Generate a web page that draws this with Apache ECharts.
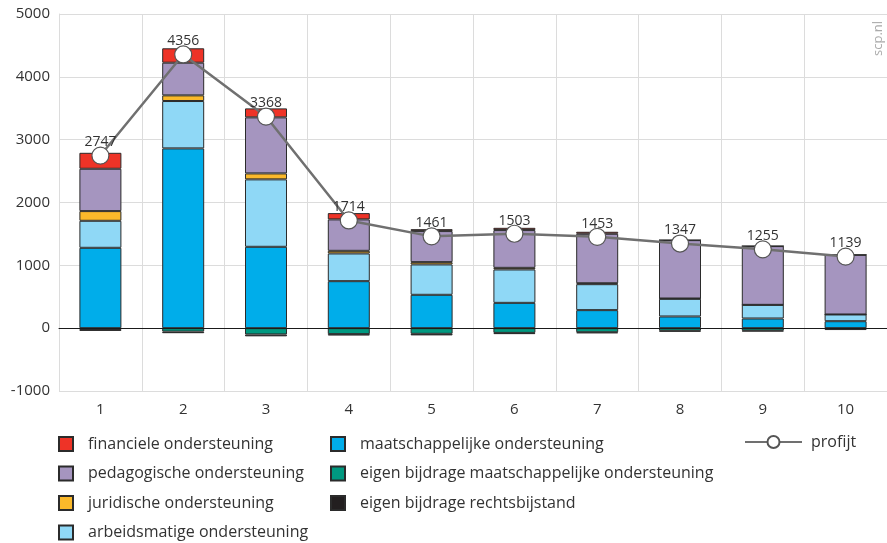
<!DOCTYPE html>
<html>
<head>
<meta charset="utf-8">
<script src="https://cdn.jsdelivr.net/npm/echarts@6/dist/echarts.min.js"></script>
<style>
  html, body { margin: 0; padding: 0; background: #fff; }
  #chart { width: 887px; height: 543px; }
</style>
</head>
<body>
<div id="chart"></div>
<script>
// deciel 1..10
const deciles = ['1', '2', '3', '4', '5', '6', '7', '8', '9', '10']
const yTicks = [-1000, 0, 1000, 2000, 3000, 4000, 5000]

// positieve componenten (van onder naar boven gestapeld)
const maatschappelijk = [1279, 2861, 1295, 748, 531, 403, 287, 186, 154, 111]
const arbeidsmatig = [430, 754, 1073, 441, 483, 531, 413, 281, 217, 107]
const juridisch = [154, 90, 95, 42, 37, 26, 15, 5, 0, 0]
const pedagogisch = [674, 520, 892, 500, 494, 601, 787, 929, 935, 949]
const financieel = [254, 229, 143, 100, 31, 36, 32, 0, 0, 0]
// eigen bijdragen (negatief)
const eigenMaatsch = [-14, -55, -100, -95, -90, -75, -65, -42, -40, -8]
const eigenRecht = [-30, -25, -30, -22, -25, -20, -16, -14, -12, -22]
// totaal profijt
const profijt = [2747, 4356, 3368, 1714, 1461, 1503, 1453, 1347, 1255, 1139]

const FONT = 'Open Sans'
const chart = echarts.init(document.getElementById('chart'))

const bar = (name, data, color) => ({
  name,
  type: 'bar',
  stack: 'p',
  data,
  barWidth: 42,
  itemStyle: { color, borderColor: '#2b2b2b', borderWidth: 1 }
})

const legendBase = {
  orient: 'vertical',
  padding: 0,
  height: 130,
  itemWidth: 14,
  itemHeight: 14,
  itemGap: 13.5,
  icon: 'rect',
  textStyle: { fontFamily: FONT, fontSize: 16, color: '#333', padding: [0, 0, 0, 10] }
}

chart.setOption({
  animation: false,
  grid: { left: 59, top: 14, width: 833, height: 377 },
  xAxis: [
    {
      type: 'category',
      data: deciles,
      position: 'bottom',
      axisLine: { onZero: false, show: false },
      axisTick: { show: false },
      axisLabel: { fontFamily: FONT, fontSize: 15, color: '#333', margin: 11 },
      splitLine: { show: true, lineStyle: { color: '#dcdcdc', width: 1 } }
    },
    {
      type: 'category',
      data: deciles,
      position: 'bottom',
      z: 5,
      axisLine: { onZero: true, lineStyle: { color: '#1a1a1a', width: 1 } },
      axisTick: { alignWithLabel: true, length: 8, lineStyle: { color: '#333' } },
      axisLabel: { show: false }
    },
    {
      type: 'category',
      data: deciles,
      position: 'bottom',
      z: 5,
      axisLine: { onZero: true, show: false },
      axisTick: { alignWithLabel: true, inside: true, length: 8, lineStyle: { color: '#333' } },
      axisLabel: { show: false }
    }
  ],
  yAxis: {
    type: 'value',
    min: yTicks[0],
    max: yTicks[yTicks.length - 1],
    interval: 1000,
    axisLine: { show: true, lineStyle: { color: '#dcdcdc' } },
    axisTick: { show: false },
    axisLabel: { fontFamily: FONT, fontSize: 15, color: '#333', margin: 9, formatter: v => String(v) },
    splitLine: { lineStyle: { color: '#dcdcdc', width: 1 } }
  },
  legend: [
    Object.assign({}, legendBase, {
      left: 58, top: 436,
      data: ['financiele ondersteuning', 'pedagogische ondersteuning', 'juridische ondersteuning', 'arbeidsmatige ondersteuning']
    }),
    Object.assign({}, legendBase, {
      left: 330, top: 436,
      data: ['maatschappelijke ondersteuning', 'eigen bijdrage maatschappelijke ondersteuning', 'eigen bijdrage rechtsbijstand']
    }),
    Object.assign({}, legendBase, {
      left: 744, top: 434,
      itemWidth: 57, itemHeight: 15,
      icon: null,
      textStyle: { fontFamily: FONT, fontSize: 16, color: '#333', padding: [0, 0, 0, 4] },
      data: [{ name: 'profijt' }]
    })
  ],
  graphic: [{
    type: 'text',
    x: 872, y: 56,
    rotation: Math.PI / 2,
    style: { text: 'scp.nl', fontFamily: FONT, fontSize: 13, fill: '#aaa' }
  }],
  series: [
    bar('maatschappelijke ondersteuning', maatschappelijk, '#00adea'),
    bar('arbeidsmatige ondersteuning', arbeidsmatig, '#8fd8f6'),
    bar('juridische ondersteuning', juridisch, '#fbb92a'),
    bar('pedagogische ondersteuning', pedagogisch, '#a595bf'),
    bar('financiele ondersteuning', financieel, '#ee3327'),
    bar('eigen bijdrage maatschappelijke ondersteuning', eigenMaatsch, '#009980'),
    bar('eigen bijdrage rechtsbijstand', eigenRecht, '#231f20'),
    {
      name: 'profijt',
      type: 'line',
      data: profijt,
      z: 10,
      symbol: 'circle',
      symbolSize: 17,
      lineStyle: { color: '#707070', width: 2.5 },
      itemStyle: { color: '#fff', borderColor: '#555', borderWidth: 1.2 },
      label: {
        show: true,
        position: 'top',
        distance: -3,
        fontFamily: FONT,
        fontSize: 14,
        color: '#333'
      }
    }
  ]
})
</script>
</body>
</html>
